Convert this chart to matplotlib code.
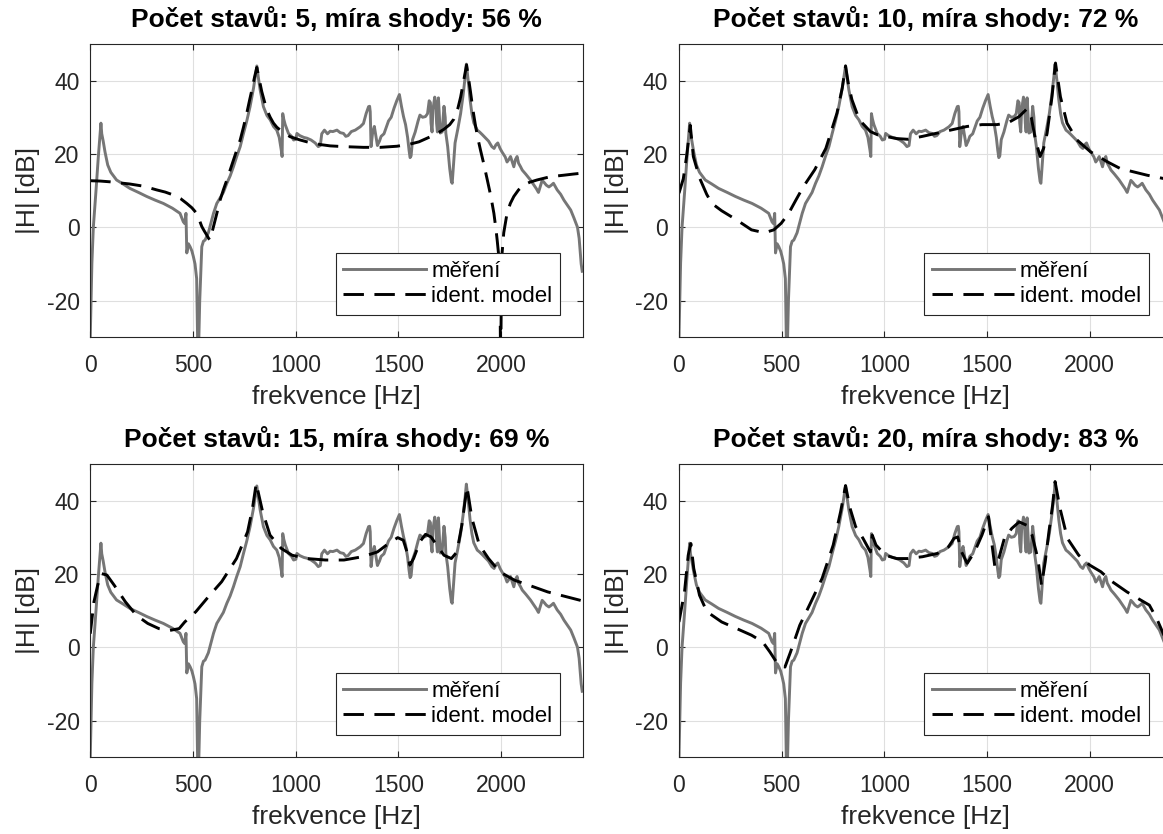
import matplotlib.pyplot as plt
import matplotlib

matplotlib.rcParams['font.family'] = ['Liberation Sans', 'DejaVu Sans']
matplotlib.rcParams['axes.unicode_minus'] = False

# measured frequency response magnitude (same in every panel)
freq_meas = [
    0, 4, 8, 15, 28, 39, 52, 56, 63, 72, 85, 100, 128, 160, 193, 235, 275, 316,
    356, 400, 437, 453, 460, 466, 470, 478, 486, 495, 502, 510, 518, 523, 528,
    533, 538, 543, 551, 559, 567, 575, 583, 591, 600, 616, 632, 648, 665, 681,
    697, 713, 730, 746, 762, 778, 795, 811, 818, 827, 843, 860, 876, 892, 908,
    920, 930, 934, 937, 942, 949, 965, 980, 990, 1001, 1006, 1020, 1040, 1055,
    1075, 1095, 1110, 1120, 1127, 1140, 1155, 1168, 1181, 1201, 1217, 1233,
    1244, 1255, 1271, 1290, 1314, 1330, 1343, 1355, 1360, 1363, 1367, 1375,
    1383, 1390, 1398, 1408, 1416, 1430, 1452, 1465, 1479, 1492, 1505, 1515,
    1525, 1535, 1545, 1552, 1557, 1562, 1569, 1582, 1596, 1605, 1618, 1632,
    1642, 1650, 1656, 1659, 1664, 1668, 1677, 1682, 1686, 1690, 1695, 1700,
    1704, 1713, 1722, 1728, 1731, 1740, 1750, 1758, 1762, 1767, 1776, 1790,
    1803, 1815, 1825, 1831, 1840, 1849, 1858, 1867, 1884, 1895, 1908, 1922,
    1939, 1955, 1966, 1975, 1984, 1995, 2005, 2020, 2029, 2038, 2046, 2056,
    2062, 2070, 2078, 2085, 2095, 2103, 2120, 2143, 2160, 2172, 2182, 2190,
    2200, 2210, 2220, 2233, 2245, 2255, 2265, 2273, 2290, 2306, 2323, 2339,
    2355, 2365, 2372, 2380, 2386, 2390, 2395]
mag_meas = [
    -30, -20, -9.8, 0, 10, 19, 28.4, 25.5, 23.5, 20.5, 17, 15, 12.9, 11.8, 10.6,
    9.5, 8.4, 7.4, 6.5, 5.2, 3.8, 1.5, 1.0, 3.8, -7, -4.5, -5.3, -6.5, -8, -10,
    -14, -32, -32, -20, -12.6, -5.3, -3.8, -3.5, -2.5, -1.5, 0.2, 1.9, 3.8, 6.5,
    8, 9.5, 12, 14, 16.5, 19.3, 22, 25.6, 29, 32.9, 38, 44, 41, 37.5, 32.9, 30.5,
    29.3, 27.5, 26.5, 24.5, 21, 19.3, 31, 29.5, 28, 25.6, 24.8, 23.8, 24, 25.6,
    25, 24.5, 24.3, 23.8, 23, 22, 22.3, 25.5, 26.5, 25.5, 26.2, 26.1, 26.5,
    25.8, 25.6, 24.8, 25, 26.1, 26.5, 27.4, 28.3, 31, 32.9, 33, 31.5, 22, 26,
    27.5, 25, 22.3, 23.5, 24.8, 25.5, 29, 30, 32.5, 34.5, 36.2, 33, 30.2, 28,
    24.5, 21, 19, 19.5, 23.9, 26, 29, 30.6, 30, 30.2, 31, 34.5, 34, 28.4, 26,
    32, 35.5, 34, 28.4, 26, 35.3, 30, 25.7, 26, 33, 30, 25.7, 22, 16, 12.5, 12,
    16, 23, 27, 31, 36, 41, 44.5, 40, 34.8, 31, 28.5, 26.5, 26, 25.3, 24.5,
    23.5, 22, 21.5, 22.5, 23, 21.5, 20.5, 19.2, 17.8, 18.5, 19.3, 17.5, 16.5,
    18.5, 19.3, 17.5, 16.5, 15.6, 14.5, 12.9, 11.5, 10.5, 9.5, 11, 12.8, 12.2,
    11.5, 11, 11.5, 12, 11, 10.2, 9, 7.4, 6, 4.7, 2.5, 1, 0, -3, -7, -10, -12]

# identified models of order 5, 10, 15, 20
freq_mod5 = [
    0, 50, 96, 193, 260, 323, 365, 405, 440, 470, 495, 518, 531, 543, 555, 567,
    576, 583, 590, 600, 615, 632, 648, 665, 681, 697, 713, 730, 746, 762, 775,
    787, 800, 811, 822, 835, 847, 860, 876, 892, 908, 925, 950, 973, 1000, 1022,
    1055, 1087, 1128, 1168, 1233, 1330, 1412, 1493, 1558, 1600, 1640, 1680,
    1721, 1750, 1770, 1790, 1803, 1818, 1832, 1842, 1851, 1863, 1876, 1888,
    1900, 1917, 1933, 1950, 1965, 1975, 1981, 1989, 1994, 1998, 2002, 2005,
    2013, 2029, 2045, 2062, 2085, 2110, 2140, 2175, 2240, 2305, 2350, 2400]
mag_mod5 = [
    12.7, 12.6, 12.4, 11.8, 11.2, 10.2, 9.6, 8.8, 7.8, 6.5, 5.3, 3.8, 2, 0.2,
    -1, -2.1, -3, -3.5, -2, 0.2, 3.5, 7.4, 10.2, 12.9, 15.6, 18.3, 21, 23.8,
    27.3, 31.1, 34.5, 37.5, 41, 43.6, 40.5, 37, 34.5, 32, 30, 28.4, 27.3, 26.5,
    25.5, 24.7, 24.2, 23.8, 23.3, 22.9, 22.5, 22.2, 22, 21.8, 21.8, 22.1, 22.7,
    23.3, 24.3, 25.3, 26.7, 28, 29.5, 32.5, 35.5, 40, 44.3, 40.5, 37, 32, 27.5,
    24, 21, 17, 12.9, 8.5, 3.8, -0.5, -3.5, -8, -12.6, -40, -12, -7, -1.5, 3.8,
    6.5, 8.4, 10.2, 11.5, 12.3, 12.9, 13.8, 14.2, 14.5, 14.8]

freq_mod10 = [
    0, 21, 37, 55, 70, 100, 135, 160, 208, 281, 353, 416, 462, 498, 534, 570,
    606, 661, 715, 769, 795, 811, 825, 842, 878, 932, 968, 1005, 1059, 1113,
    1186, 1258, 1330, 1403, 1475, 1548, 1602, 1656, 1694, 1715, 1735, 1758,
    1775, 1792, 1816, 1833, 1857, 1889, 1938, 2003, 2084, 2149, 2214, 2279,
    2359, 2400]
mag_mod10 = [
    9.3, 13.2, 19.3, 27.8, 19.3, 13.5, 9, 6.5, 4.5, 2, -0.7, -1.5, -0.7, 1.1,
    3.8, 7.5, 11.1, 15.7, 21.5, 31.1, 38, 44, 39, 34.8, 29.3, 26.1, 25.2, 24.8,
    24.2, 24.0, 24.8, 25.7, 26.6, 27.5, 28, 28, 28.5, 30.2, 32.3, 30, 24, 19.3,
    21.5, 25.6, 35.6, 44.8, 35.6, 28.4, 23.8, 20.6, 17.9, 16, 15.1, 14.2, 13.3,
    12.9]

freq_mod15 = [
    0, 18, 36, 54, 81, 117, 171, 225, 280, 334, 388, 433, 460, 514, 568, 640,
    712, 766, 790, 808, 839, 875, 929, 983, 1055, 1145, 1235, 1325, 1398, 1452,
    1497, 1524, 1542, 1556, 1574, 1605, 1632, 1659, 1686, 1722, 1758, 1785,
    1809, 1834, 1858, 1894, 1939, 1993, 2065, 2137, 2227, 2317, 2400]
mag_mod15 = [
    3.7, 12.4, 16.9, 20.1, 19.7, 16.9, 12.4, 8.7, 6.5, 5.1, 4.6, 5.1, 6.9, 9.7,
    13.3, 17.9, 24.2, 31.5, 38, 44.7, 37, 30.6, 27, 25.1, 24.2, 23.8, 23.8,
    24.7, 26, 28.3, 29.9, 29.2, 26, 22.4, 24.2, 28.8, 30.8, 30.1, 27.9, 25.1,
    24.2, 26, 33.3, 43.8, 35.2, 27.9, 24.2, 20.6, 18.3, 16.9, 15.1, 13.8, 12.6]

freq_mod20 = [
    0, 27, 45, 58, 72, 100, 136, 208, 281, 353, 407, 443, 480, 516, 543, 588,
    643, 697, 751, 787, 811, 833, 860, 896, 932, 941, 959, 1005, 1059, 1113,
    1186, 1258, 1312, 1339, 1357, 1376, 1403, 1439, 1475, 1507, 1520, 1538,
    1557, 1584, 1620, 1656, 1692, 1719, 1747, 1765, 1783, 1801, 1819, 1831,
    1855, 1891, 1946, 2000, 2054, 2109, 2181, 2235, 2290, 2326, 2358, 2400]
mag_mod20 = [
    6.9, 15.1, 25.1, 28.3, 21.5, 14.2, 9.7, 6.9, 5.1, 3.3, 1.5, -1.3, -4.5,
    -5.4, -1.3, 6, 12.4, 18.8, 27.9, 37, 44.1, 37.9, 32.9, 29.7, 26, 30.6,
    27.9, 25.1, 24.2, 24.2, 24.7, 25.6, 27.4, 29.7, 30.1, 26, 22.9, 26, 30.6,
    35.6, 29.7, 21.9, 24.2, 29.7, 32.4, 34.2, 33.3, 30.6, 24.2, 16.9, 23.3,
    31.5, 38.8, 45.2, 37.9, 29.7, 25.1, 22.4, 20.6, 17.9, 15.1, 13.3, 11.5,
    7.8, 3.7, -2]

n_states = [5, 10, 15, 20]
fit_pct = [56, 72, 69, 83]
models = [(freq_mod5, mag_mod5), (freq_mod10, mag_mod10),
          (freq_mod15, mag_mod15), (freq_mod20, mag_mod20)]

GRAY = '#767676'
DARK = '#262626'

fig = plt.figure(figsize=(11.63, 8.34), dpi=100)
ax_w, ax_h = 0.4239, 0.3517
corners = [(0.0776, 0.5956), (0.5838, 0.5956), (0.0776, 0.092), (0.5838, 0.092)]

for (left, bottom), (f_mod, m_mod), n, fit in zip(corners, models, n_states, fit_pct):
    ax = fig.add_axes([left, bottom, ax_w, ax_h])
    ax.plot(freq_meas, mag_meas, color=GRAY, lw=2.1, label='měření')
    ax.plot(f_mod, m_mod, color='k', lw=2.1, ls=(0, (7, 3.6)), label='ident. model')
    ax.set_xlim(0, 2400)
    ax.set_ylim(-30, 50)
    ax.set_xticks([0, 500, 1000, 1500, 2000])
    ax.set_yticks([-20, 0, 20, 40])
    ax.grid(color='#dfdfdf', lw=0.8)
    ax.set_axisbelow(True)
    ax.tick_params(direction='in', top=True, right=True, length=4.5, width=0.8,
                   colors=DARK, labelsize=16.5)
    ax.tick_params(axis='x', pad=12)
    ax.tick_params(axis='y', pad=7.7)
    for sp in ax.spines.values():
        sp.set_color(DARK)
        sp.set_linewidth(0.8)
    ax.set_title('Počet stavů: %d, míra shody: %d %%' % (n, fit),
                 fontsize=19, fontweight='bold', pad=12)
    ax.set_xlabel('frekvence [Hz]', fontsize=19, color=DARK, labelpad=5.5)
    ax.set_ylabel('|H| [dB]', fontsize=19, color=DARK, labelpad=4.8)
    leg = ax.legend(loc='lower right', bbox_to_anchor=(0.953, 0.076),
                    borderaxespad=0, fontsize=16, handlelength=3.7,
                    handletextpad=0.25, borderpad=0.35, labelspacing=0.2,
                    fancybox=False, framealpha=1, edgecolor=DARK)
    leg.get_frame().set_linewidth(0.8)

fig.savefig('out.png', dpi=100)
